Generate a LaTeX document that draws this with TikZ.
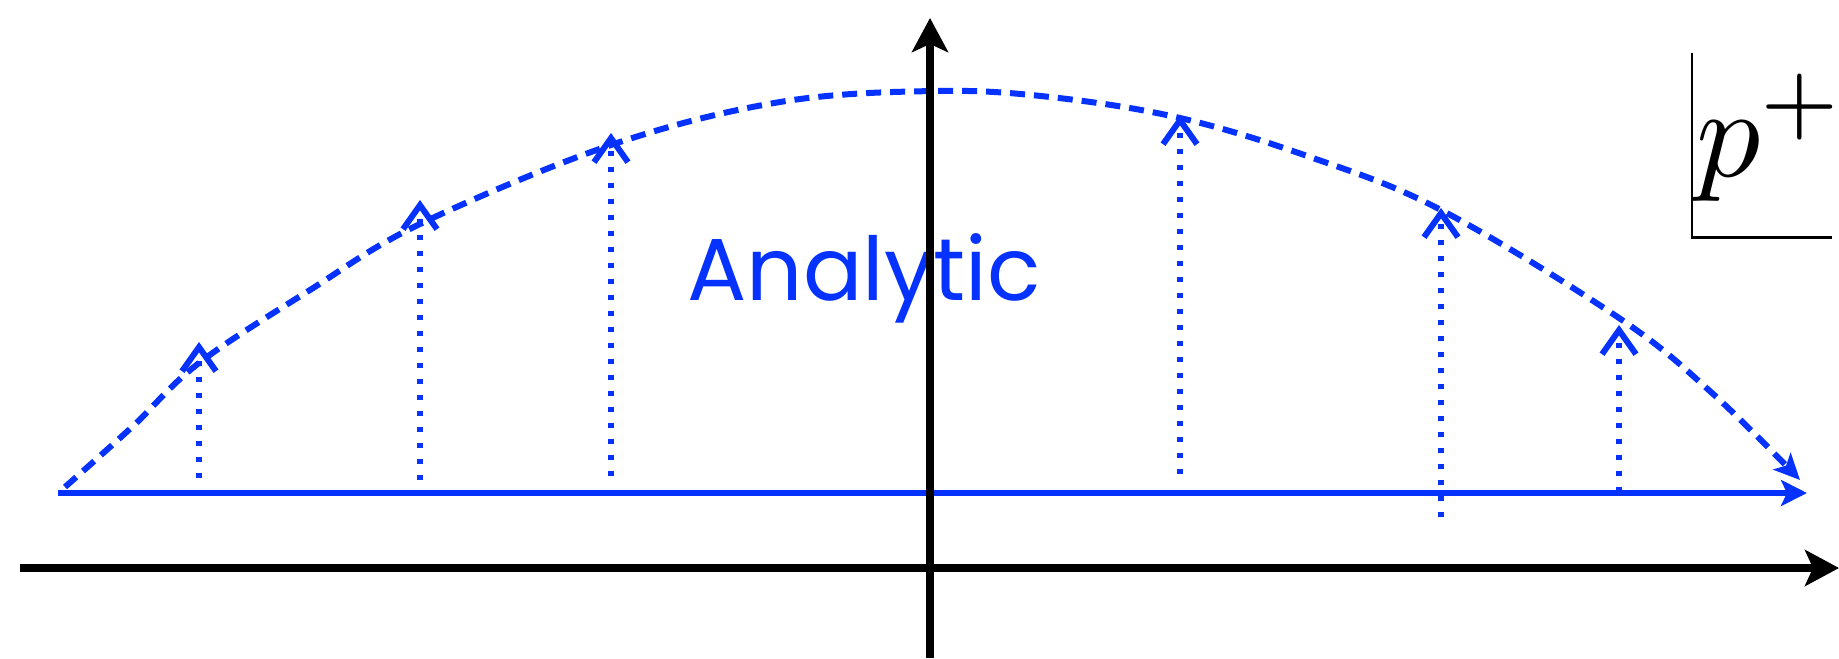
\documentclass[tikz,border=0pt]{standalone}
\usepackage{fontspec}
\newfontfamily\handfont{Poppins}
\usetikzlibrary{arrows.meta}
\definecolor{myblue}{RGB}{5,50,255}
\begin{document}
\begin{tikzpicture}[x=0.5pt,y=-0.5pt,
  axis/.style={line width=4.4pt, -{Stealth[length=17pt,width=18pt,inset=4pt]}},
  contour/.style={myblue, line width=3pt, -{Stealth[length=13pt,width=13pt,inset=3pt]}},
  arcpath/.style={myblue, line width=3pt, dash pattern=on 7.5pt off 4.5pt, -{Stealth[length=13pt,width=12pt,inset=3pt]}},
  vshift/.style={myblue, line width=2.7pt, dash pattern=on 2.7pt off 5.3pt, -{Straight Barb[length=12pt,width=17pt,line width=3pt]}},
  boxline/.style={line width=1.1pt},
]
\useasboundingbox (0,0) rectangle (1839,658);

% text
\node[anchor=base west, inner sep=0, text=myblue, font=\handfont\fontsize{44}{44}\selectfont] (analytic) at (687,300) {Analytic};

% contour line
\coordinate (cl) at (58,493);
\coordinate (cr) at (1807,493);
\draw[contour] (cl) -- (cr);

% deformed arc
\draw[arcpath] plot[smooth, tension=0.6] coordinates {(65,487) (132,427) (199,363) (310,290) (420,224) (611,145) (780,102) (935,91) (1050,97) (1180,118) (1310,157) (1441,210) (1619,318) (1712,393) (1800,480)};

% dotted shifts
\coordinate (b1) at (199,478);  \coordinate (t1) at (199,342);
\coordinate (b2) at (420,480);  \coordinate (t2) at (420,200);
\coordinate (b3) at (611,476);  \coordinate (t3) at (611,133);
\coordinate (b4) at (1180,474); \coordinate (t4) at (1180,115);
\coordinate (b5) at (1441,517); \coordinate (t5) at (1441,208);
\coordinate (b6) at (1619,492); \coordinate (t6) at (1619,325);
\foreach \i in {1,...,6} {\draw[vshift] (b\i) -- (t\i);}

% axes
\coordinate (yb) at (930,658);
\coordinate (yt) at (930,18);
\coordinate (xl) at (20,568);
\coordinate (xr) at (1839,568);
\draw[axis] (yb) -- (yt);
\draw[axis] (xl) -- (xr);

% p+ label
\node[minimum width=70pt, minimum height=92pt, inner sep=0] (pbox) at (1762,145) {};
\node[anchor=base west, inner sep=0, scale=6.4] (plabel) at (1694,176) {$p^+$};
\draw[boxline] (pbox.north west) -- (pbox.south west) -- (pbox.south east);
\end{tikzpicture}
\end{document}
